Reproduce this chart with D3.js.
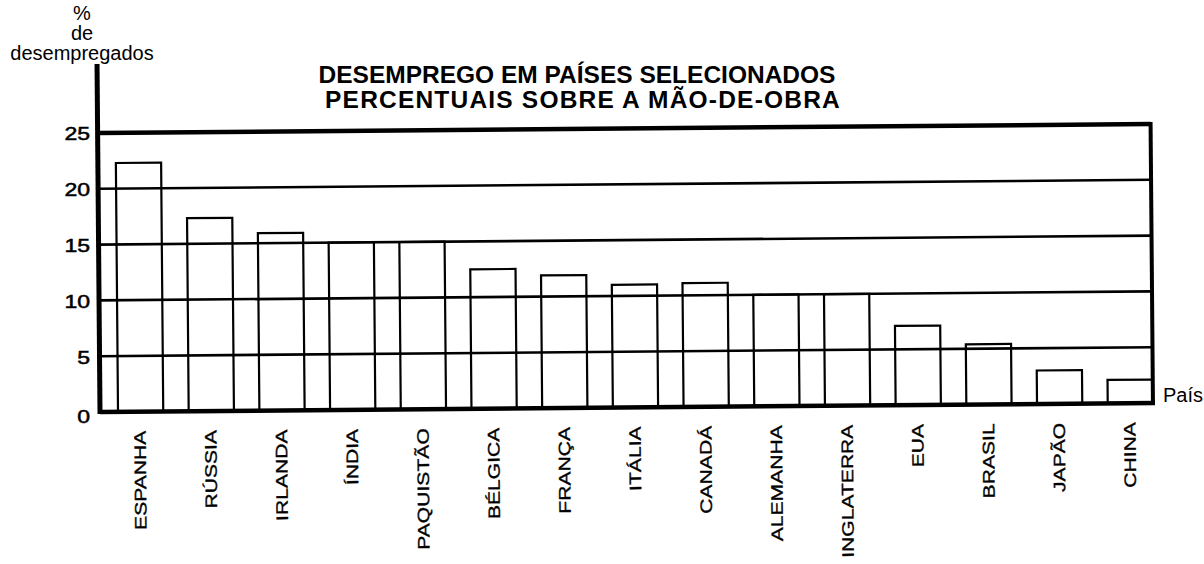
<!DOCTYPE html>
<html><head><meta charset="utf-8">
<script src="https://cdn.jsdelivr.net/npm/d3@7"></script>
<style>
body{margin:0;background:#fff}
svg{display:block}
text{font-family:Arial,"Liberation Sans",Helvetica,sans-serif;fill:#000}
</style>
</head><body>
<svg id="chart" width="1204" height="564"></svg>
<script>
// ---- data ----
const countries = ["ESPANHA","RÚSSIA","IRLANDA","ÍNDIA","PAQUISTÃO","BÉLGICA","FRANÇA","ITÁLIA","CANADÁ","ALEMANHA","INGLATERRA","EUA","BRASIL","JAPÃO","CHINA"];
const unemployment = [22.3,17.3,15.9,15.0,15.0,12.5,11.9,11.0,11.1,10.0,10.0,7.1,5.4,3.0,2.1];
const yTicks = [0,5,10,15,20,25];
const titleLines = ["DESEMPREGO EM PAÍSES SELECIONADOS","PERCENTUAIS SOBRE A MÃO-DE-OBRA"];
const yAxisTitle = ["%","de","desempregados"];
const xAxisTitle = "País";

// ---- layout ----
const svg = d3.select("#chart");
const X0 = 100, X1 = 1153, Y0 = 412, Ytop = 133;
const y = d3.scaleLinear().domain([0,25]).range([Y0,Ytop]);
const x = d3.scaleBand().domain(countries).range([118,1153]).paddingInner(0.36).paddingOuter(0);

// plot group with slight skew like the scanned original
const g = svg.append("g").attr("transform",`rotate(-0.49,${X0},${Y0})`);

// grid lines
g.selectAll("line.grid").data(yTicks.filter(t=>t>0 && t<25)).join("line")
  .attr("class","grid")
  .attr("x1",X0).attr("x2",X1)
  .attr("y1",d=>y(d)).attr("y2",d=>y(d))
  .attr("stroke","#000").attr("stroke-width",2.6);

// bars
const data = countries.map((c,i)=>({c,v:unemployment[i]}));
g.selectAll("rect.bar").data(data).join("rect")
  .attr("class","bar")
  .attr("x",d=>x(d.c)).attr("y",d=>y(d.v))
  .attr("width",x.bandwidth()).attr("height",d=>y(0)-y(d.v))
  .attr("fill","none").attr("stroke","#000").attr("stroke-width",2.2);

// top border (25), baseline (0), right border, left axis
g.append("line").attr("x1",X0).attr("x2",X1).attr("y1",y(25)).attr("y2",y(25))
  .attr("stroke","#000").attr("stroke-width",4.5);
g.append("line").attr("x1",X0).attr("x2",X1+2).attr("y1",y(0)).attr("y2",y(0))
  .attr("stroke","#000").attr("stroke-width",4.5);
g.append("line").attr("x1",X1).attr("x2",X1).attr("y1",y(25)-2).attr("y2",y(0)+2)
  .attr("stroke","#000").attr("stroke-width",4);
g.append("line").attr("x1",X0).attr("x2",X0).attr("y1",64).attr("y2",y(0)+2)
  .attr("stroke","#000").attr("stroke-width",5);

// x labels (vertical)
g.selectAll("g.xl").data(countries).join("g")
  .attr("class","xl")
  .attr("transform",d=>`translate(${x(d)+x.bandwidth()/2-1},${Y0+19}) rotate(-90)`)
  .append("text")
  .attr("text-anchor","end").attr("dy","0.36em")
  .attr("transform","scale(1.28,1)")
  .attr("stroke","#000").attr("stroke-width",0.35)
  .style("font-size","16.5px")
  .text(d=>d);

// y tick labels
svg.selectAll("g.yl").data(yTicks).join("g")
  .attr("class","yl")
  .attr("transform",d=>`translate(90,${y(d)+(d===0?5:1)})`)
  .append("text")
  .attr("text-anchor","end").attr("dy","0.36em")
  .attr("transform","scale(1.28,1)")
  .attr("stroke","#000").attr("stroke-width",0.5)
  .style("font-size","18px")
  .text(d=>d);

// y axis title
svg.selectAll("text.yt").data(yAxisTitle).join("text")
  .attr("class","yt")
  .attr("x",82).attr("y",(d,i)=>20+i*20)
  .attr("text-anchor","middle")
  .style("font-size","20px")
  .text(d=>d);

// x axis title
svg.append("text").attr("x",1163).attr("y",402)
  .style("font-size","20px").text(xAxisTitle);

// chart title
svg.selectAll("text.title").data(titleLines).join("text")
  .attr("class","title")
  .attr("x",(d,i)=>i===0?577:583).attr("y",(d,i)=>83+i*25)
  .attr("text-anchor","middle")
  .style("letter-spacing",(d,i)=>i===0?"0px":"1.2px")
  .style("font-size","24.5px").style("font-weight","bold")
  .text(d=>d);
</script>
</body></html>
